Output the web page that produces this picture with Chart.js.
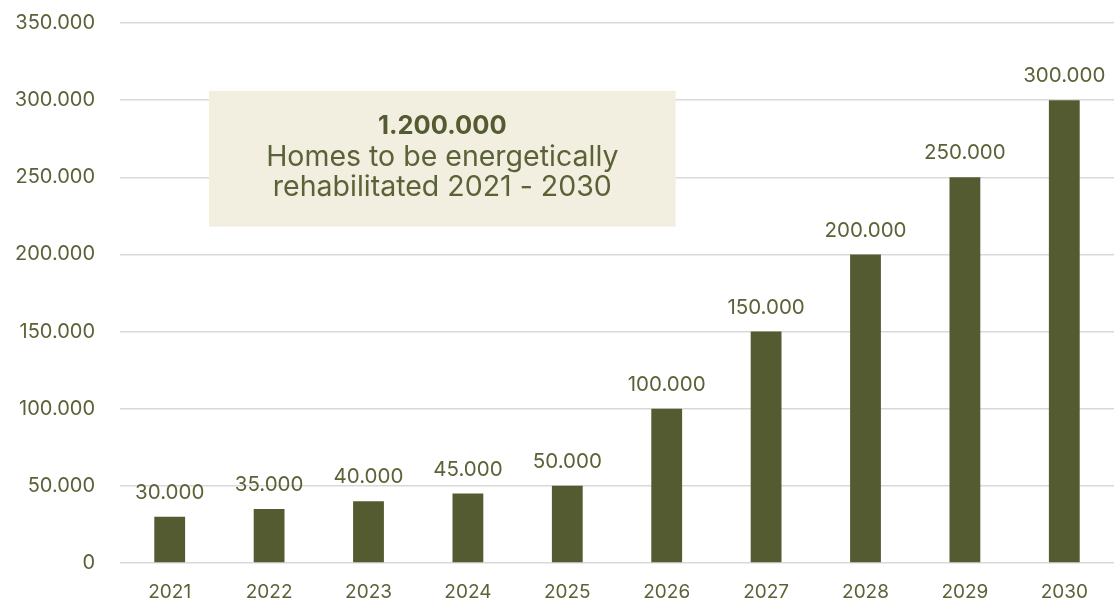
<!DOCTYPE html>
<html>
<head>
<meta charset="utf-8">
<script src="https://cdn.jsdelivr.net/npm/chart.js@4/dist/chart.umd.min.js"></script>
<style>
  html, body { margin: 0; padding: 0; background: #fff; }
  #wrap { width: 1114px; height: 602px; }
</style>
</head>
<body>
<div id="wrap"><canvas id="grafikRehab"></canvas></div>
<script>
const years = ['2021', '2022', '2023', '2024', '2025', '2026', '2027', '2028', '2029', '2030'];
const homes = [30000, 35000, 40000, 45000, 50000, 100000, 150000, 200000, 250000, 300000];
const yTicks = [0, 50000, 100000, 150000, 200000, 250000, 300000, 350000];
const totalLabel = '1.200.000';
const boxLines = ['Homes to be energetically', 'rehabilitated 2021 - 2030'];

const olive = '#545b30';
const textOlive = '#5b6237';
const fontFamily = 'Inter, "Noto Sans", sans-serif';

const fmt = v => v.toLocaleString('de-DE');

// values printed above each bar
const barLabels = {
    id: 'barLabels',
    afterDatasetsDraw(chart) {
        const ctx = chart.ctx;
        const meta = chart.getDatasetMeta(0);
        ctx.save();
        ctx.font = '20.5px ' + fontFamily;
        ctx.fillStyle = textOlive;
        ctx.textAlign = 'center';
        ctx.textBaseline = 'middle';
        meta.data.forEach((bar, i) => {
            ctx.fillText(fmt(homes[i]), bar.x, bar.y - 24);
        });
        ctx.restore();
    }
};

// summary box in the upper left of the plot
const summaryBox = {
    id: 'summaryBox',
    afterDatasetsDraw(chart) {
        const ctx = chart.ctx;
        const x = chart.scales.x, y = chart.scales.y;
        const left = x.getPixelForValue(0.395);
        const right = x.getPixelForValue(5.09);
        const top = y.getPixelForValue(306000);
        const bottom = y.getPixelForValue(218000);
        ctx.save();
        ctx.fillStyle = '#f2eee0';
        ctx.fillRect(left, top, right - left, bottom - top);
        const cx = (left + right) / 2;
        ctx.textAlign = 'center';
        ctx.textBaseline = 'middle';
        ctx.fillStyle = olive;
        ctx.font = 'bold 25.5px ' + fontFamily;
        ctx.fillText(totalLabel, cx, top + 35);
        ctx.fillStyle = textOlive;
        ctx.font = '28.5px ' + fontFamily;
        ctx.fillText(boxLines[0], cx, top + 67);
        ctx.fillText(boxLines[1], cx, top + 97);
        ctx.restore();
    }
};

new Chart(document.getElementById('grafikRehab'), {
    type: 'bar',
    data: {
        labels: years,
        datasets: [{
            data: homes,
            backgroundColor: olive,
            barPercentage: 0.62,
            categoryPercentage: 0.5
        }]
    },
    options: {
        responsive: true,
        maintainAspectRatio: false,
        animation: false,
        layout: { padding: { top: 23, right: 0, bottom: 0, left: 0 } },
        plugins: {
            legend: { display: false },
            tooltip: { enabled: false }
        },
        scales: {
            x: {
                grid: { display: false, drawTicks: false },
                border: { display: false },
                ticks: {
                    color: textOlive,
                    font: { family: fontFamily, size: 19 },
                    padding: 18
                },
                afterFit: axis => { axis.height = 39; }
            },
            y: {
                min: 0,
                max: 350000,
                afterBuildTicks: axis => { axis.ticks = yTicks.map(v => ({ value: v })); },
                grid: { color: '#d9d9d9', lineWidth: 1.5, drawTicks: false },
                border: { display: false },
                ticks: {
                    color: textOlive,
                    font: { family: fontFamily, size: 20 },
                    padding: 25,
                    callback: v => fmt(v)
                },
                afterFit: axis => {
                    axis.width = 120;
                    axis.paddingTop = 0;
                    axis.paddingBottom = 0;
                }
            }
        }
    },
    plugins: [summaryBox, barLabels]
});
</script>
</body>
</html>
